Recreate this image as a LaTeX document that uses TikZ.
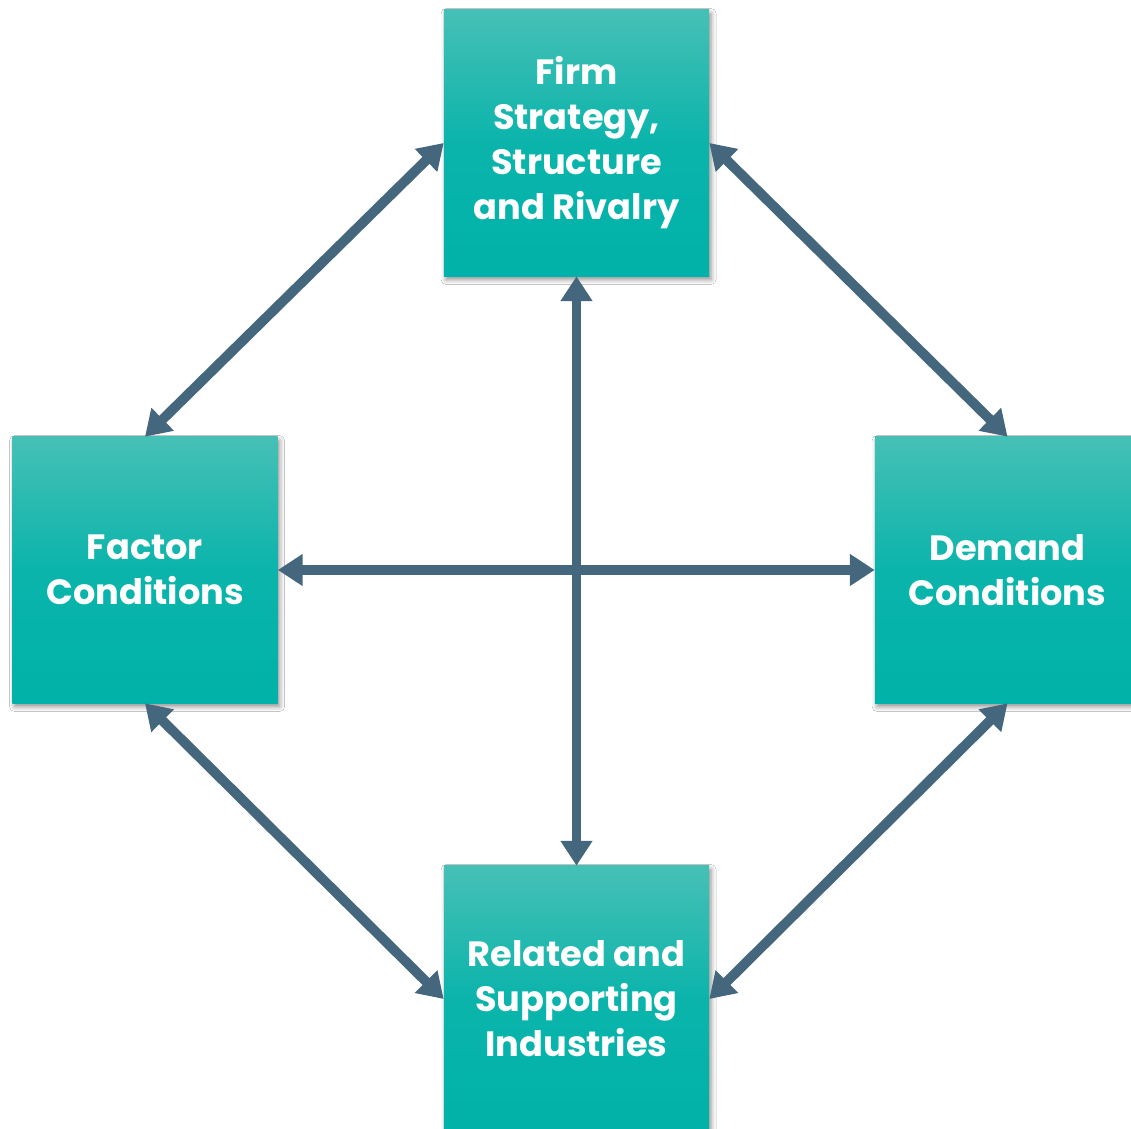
\documentclass[tikz,border=0pt]{standalone}
\usepackage{fontspec}
\setmainfont{Poppins}
\usetikzlibrary{arrows.meta,shadows.blur}

\definecolor{tealtop}{HTML}{46C0B6}
\definecolor{tealbot}{HTML}{00B2A9}
\definecolor{slate}{HTML}{44677E}

\begin{document}
\begin{tikzpicture}[x=0.025cm,y=-0.025cm,
    box/.style={rectangle,minimum width=6.625cm,minimum height=6.65cm,
        top color=tealtop,bottom color=tealbot,middle color=tealbot!85!tealtop,
        blur shadow={shadow xshift=1.5pt,shadow yshift=-2.5pt,shadow blur radius=3.5pt,shadow opacity=45},
        text=white,align=center,font=\fontsize{25}{32}\selectfont\bfseries},
    link/.style={slate,line width=7pt,{Triangle[length=0.62cm,width=0.76cm]}-{Triangle[length=0.62cm,width=0.76cm]}}]

    \clip (0,0) rectangle (1131,1129);
    \fill[white] (0,0) rectangle (1131,1129);

    % the four corners of the diamond
    \node[box] (firm) at (576.5,143) {Firm\\Strategy,\\Structure\\and Rivalry};
    \node[box] (factor) at (145,570) {Factor\\Conditions};
    \node[box] (demand) at (1007.5,570) {Demand\\Conditions};
    \node[box] (related) at (576.5,999) {Related and\\Supporting\\Industries};

    % outer links
    \draw[link] (factor.north) -- (firm.west);
    \draw[link] (firm.east) -- (demand.north);
    \draw[link] (factor.south) -- (related.west);
    \draw[link] (related.east) -- (demand.south);

    % cross links
    \draw[link] (firm.south) -- (related.north);
    \draw[link] (factor.east) -- (demand.west);

\end{tikzpicture}
\end{document}
